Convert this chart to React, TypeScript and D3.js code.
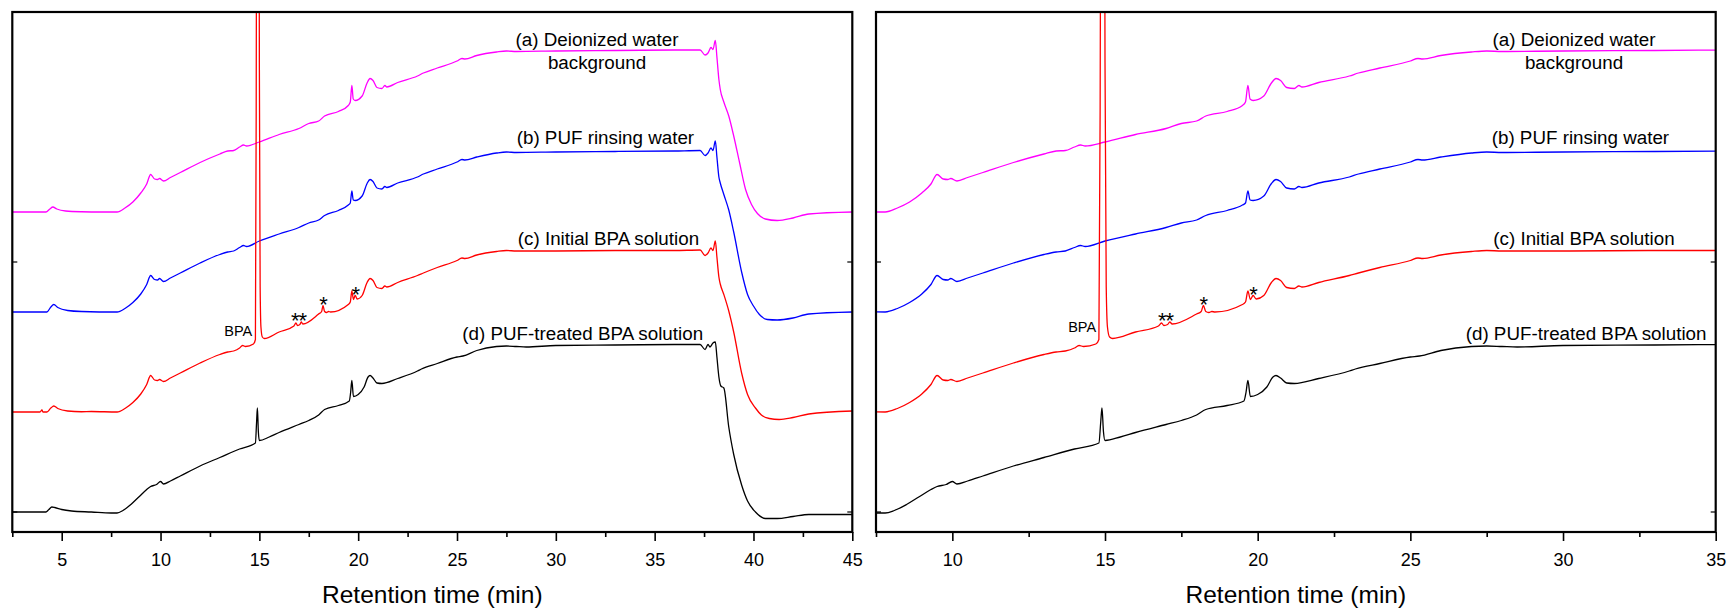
import React, { useEffect, useRef } from 'react';
import * as d3 from 'd3';

// chromatograms: [retention time (min), signal (a.u.)]
const deionizedWater: [number, number][] = [
  [2.5, 0], [4.2, 0], [4.4, 0.6], [4.55, 1.0], [4.75, 0.6], [5.2, 0.2], [6.0, 0.05], [7.0, 0], [7.8, 0],
  [8.2, 0.8], [8.6, 2.0], [9.0, 3.8], [9.3, 5.6], [9.5, 7.5], [9.7, 6.6], [9.85, 6.5], [9.95, 6.7], [10.15, 6.2],
  [10.5, 6.9], [11.0, 7.9], [12.0, 9.9], [13.0, 11.6], [13.4, 12.2], [13.7, 12.3], [14.0, 13.0], [14.2, 13.4],
  [14.35, 13.2], [15.0, 14.0], [16.0, 15.5], [17.0, 16.7], [17.5, 17.7], [18.0, 18.2], [18.3, 19.2], [19.0, 20.1],
  [19.5, 21.3], [19.6, 22.0], [19.68, 25.3], [19.75, 22.6], [19.85, 22.3], [20.2, 23.2], [20.45, 25.8], [20.6, 26.7],
  [20.75, 26.3], [20.95, 24.9], [21.2, 24.7], [21.35, 25.3], [21.45, 25.0], [22.0, 25.9], [23.0, 27.2], [23.3, 27.8],
  [24.0, 28.8], [25.0, 30.2], [25.25, 30.7], [25.4, 30.6], [26.0, 31.3], [27.0, 32.0], [27.5, 32.2], [28.0, 32.1],
  [30.0, 32.2], [33.0, 32.3], [36.0, 32.4], [37.3, 32.4], [37.55, 31.4], [37.7, 31.8], [37.85, 32.9], [37.95, 32.5],
  [38.07, 34.3], [38.15, 31.0], [38.25, 26.5], [38.32, 24.5], [38.5, 22.0], [38.75, 19.2], [39.0, 15.2], [39.3, 9.8],
  [39.6, 4.5], [39.9, 1.5], [40.2, -0.3], [40.6, -1.4], [41.2, -1.7], [42.0, -1.2], [42.8, -0.4], [45.0, 0]
];

const pufRinsingWater: [number, number][] = [
  [2.5, 0], [4.25, 0], [4.45, 1.0], [4.6, 1.5], [4.8, 0.9], [5.3, 0.3], [6.0, 0.1], [7.8, 0],
  [8.2, 0.7], [8.6, 1.9], [9.0, 3.6], [9.3, 5.5], [9.5, 7.3], [9.7, 6.5], [9.85, 6.4], [9.95, 6.7], [10.15, 6.1],
  [10.5, 6.8], [11.0, 7.8], [12.0, 9.8], [13.0, 11.5], [13.4, 12.0], [13.7, 12.2], [14.0, 12.9], [14.2, 13.3],
  [14.35, 13.1], [15.0, 14.2], [16.0, 15.6], [17.0, 16.9], [17.5, 17.8], [18.0, 18.4], [18.3, 19.3], [19.0, 20.3],
  [19.5, 21.4], [19.6, 21.8], [19.68, 24.2], [19.75, 22.4], [19.85, 22.3], [20.2, 23.2], [20.45, 25.7], [20.6, 26.5],
  [20.75, 26.1], [20.95, 24.8], [21.2, 24.6], [21.35, 25.1], [21.45, 24.9], [22.0, 25.8], [23.0, 27.0], [23.3, 27.6],
  [24.0, 28.6], [25.0, 30.0], [25.25, 30.5], [25.4, 30.4], [26.0, 31.0], [27.0, 31.8], [27.5, 32.0], [28.0, 31.9],
  [30.0, 32.0], [33.0, 32.1], [36.0, 32.2], [37.3, 32.3], [37.55, 31.3], [37.7, 31.8], [37.85, 32.8], [37.95, 32.3],
  [38.07, 34.2], [38.15, 31.0], [38.25, 27.0], [38.32, 25.8], [38.5, 23.5], [38.75, 20.4], [39.0, 16.0], [39.4, 8.0],
  [39.7, 3.5], [40.0, 1.2], [40.3, -0.5], [40.7, -1.5], [41.2, -1.6], [42.0, -1.2], [42.8, -0.4], [45.0, 0]
];

const initialBpa: [number, number][] = [
  [2.5, 0], [3.9, 0], [4.0, 0.4], [4.05, 0], [4.25, 0], [4.45, 0.8], [4.6, 1.2], [4.8, 0.7], [5.3, 0.2], [6.0, 0.05],
  [6.5, 0.1], [7.8, 0], [8.2, 0.7], [8.6, 1.9], [9.0, 3.6], [9.3, 5.5], [9.5, 7.3], [9.7, 6.4], [9.85, 6.3],
  [9.95, 6.5], [10.15, 6.1], [10.5, 6.8], [11.0, 7.8], [12.0, 9.8], [13.0, 11.5], [13.4, 12.0], [13.7, 12.2],
  [14.0, 12.8], [14.15, 13.3], [14.3, 13.1], [14.7, 13.6], [14.8, 14.5], [14.84, 60], [14.88, 160], [14.92, 230],
  [14.97, 160], [15.0, 70], [15.04, 25], [15.08, 17], [15.15, 15.0], [15.25, 14.7], [16.0, 16.0], [16.75, 17.2],
  [16.85, 17.8], [16.93, 17.3], [17.05, 17.5], [17.12, 18.0], [17.2, 17.6], [18.0, 19.6], [18.15, 20.1],
  [18.22, 21.3], [18.3, 20.1], [18.4, 19.9], [18.5, 20.1], [18.6, 20.0], [19.5, 21.5], [19.6, 22.0], [19.68, 24.2],
  [19.76, 22.5], [19.85, 23.3], [19.95, 22.6], [20.2, 23.3], [20.45, 25.9], [20.6, 26.7], [20.75, 26.3],
  [20.95, 24.9], [21.2, 24.7], [21.35, 25.2], [21.45, 25.0], [22.0, 25.9], [23.0, 27.3], [23.3, 27.8], [24.0, 28.9],
  [25.0, 30.3], [25.25, 30.8], [25.4, 30.7], [26.0, 31.4], [27.0, 32.1], [27.5, 32.3], [28.0, 32.2], [30.0, 32.2],
  [33.0, 32.3], [36.0, 32.3], [37.3, 32.4], [37.55, 31.3], [37.7, 31.8], [37.85, 32.8], [37.95, 32.3], [38.07, 34.2],
  [38.15, 31.0], [38.25, 27.0], [38.32, 25.6], [38.5, 23.5], [38.75, 20.2], [39.0, 16.0], [39.4, 7.8], [39.7, 3.5],
  [40.1, 0.8], [40.4, -0.6], [40.8, -1.3], [41.3, -1.5], [42.0, -1.1], [42.8, -0.4], [45.0, 0.2]
];

const pufTreatedBpa: [number, number][] = [
  [2.5, 0], [4.2, 0], [4.35, 0.5], [4.5, 1.0], [4.65, 0.9], [5.0, 0.5], [5.5, 0.2], [6.5, 0], [7.5, -0.2],
  [7.8, -0.2], [8.1, 0.3], [8.5, 1.5], [8.9, 3.0], [9.3, 4.5], [9.5, 5.1], [9.8, 5.5], [10.0, 6.1], [10.15, 5.6],
  [10.5, 6.2], [11.0, 7.2], [12.0, 9.2], [13.0, 10.9], [14.0, 12.6], [14.8, 13.8], [14.86, 18.0], [14.9, 20.8],
  [14.95, 16.0], [15.0, 14.3], [15.5, 15.0], [16.0, 15.9], [17.0, 17.5], [17.5, 18.3], [18.0, 19.4], [18.3, 20.5],
  [19.0, 21.3], [19.55, 22.2], [19.62, 24.0], [19.68, 26.3], [19.76, 23.1], [20.0, 23.5], [20.3, 25.0],
  [20.5, 27.0], [20.6, 27.3], [20.75, 26.8], [20.95, 25.8], [21.2, 25.7], [22.0, 26.7], [23.0, 28.2], [23.2, 28.6],
  [24.0, 29.7], [25.0, 31.0], [25.3, 31.2], [26.0, 32.3], [27.0, 33.1], [27.5, 33.2], [28.0, 33.1], [28.5, 33.0],
  [30.0, 33.3], [33.0, 33.4], [36.0, 33.5], [37.3, 33.5], [37.55, 32.5], [37.7, 33.5], [37.8, 33.0], [37.95, 33.8],
  [38.07, 34.0], [38.15, 31.0], [38.25, 27.0], [38.35, 25.2], [38.5, 24.8], [38.75, 17.0], [39.0, 11.5],
  [39.4, 5.4], [39.7, 2.2], [40.1, 0], [40.6, -1.3], [41.2, -1.3], [42.0, -0.9], [42.8, -0.5], [45.0, -0.5]
];

const traces = [deionizedWater, pufRinsingWater, initialBpa, pufTreatedBpa];
const traceColors = ['#ff00ff', '#0000ff', '#ff0000', '#000000'];
const traceOffsets = [60, 40, 20, 0];
const traceLabels = ['(a) Deionized water', '(b) PUF rinsing water', '(c) Initial BPA solution', '(d) PUF-treated BPA solution'];
const labelSecondLine = 'background';

const leftDomain = [2.5, 45];
const rightDomain = [7.5, 35];
const leftTicks = [5, 10, 15, 20, 25, 30, 35, 40, 45];
const rightTicks = [10, 15, 20, 25, 30, 35];
// unidentified peaks of (c), marked with asterisks
const asteriskGroups = [[16.85, 17.12], [18.22], [19.85]];
const bpaTime = 14.84;

const FONT = 'Liberation Sans, Arial, Helvetica, sans-serif';

export default function App() {
  const ref = useRef<SVGSVGElement>(null);

  useEffect(() => {
    const svg = d3.select(ref.current);
    svg.selectAll('*').remove();

    const top = 12, bottom = 532;
    const y = d3.scaleLinear().domain([-4, 100]).range([bottom, top]);

    const panels = [
      { id: 'l', domain: leftDomain, ticks: leftTicks, x0: 12.3, x1: 852.3,
        labelA: 597, labelStart: [516.7, 517.8, 462.3], bpaY: 336 },
      { id: 'r', domain: rightDomain, ticks: rightTicks, x0: 876, x1: 1715.7,
        labelA: 1574, labelStart: [1491.7, 1493.3, 1465.7], bpaY: 332 }
    ];

    panels.forEach(p => {
      const x = d3.scaleLinear().domain(p.domain).range([p.x0, p.x1]);

      // clip so the BPA peak runs off the top
      svg.append('clipPath').attr('id', `clip-${p.id}`)
        .append('rect')
        .attr('x', p.x0).attr('y', top)
        .attr('width', p.x1 - p.x0).attr('height', bottom - top);

      const lines = svg.append('g').attr('clip-path', `url(#clip-${p.id})`);
      traces.forEach((tr, i) => {
        const line = d3.line<[number, number]>()
          .x(d => x(d[0]))
          .y(d => y(d[1] + traceOffsets[i]))
          .curve(d3.curveMonotoneX);
        lines.append('path')
          .datum(tr)
          .attr('fill', 'none')
          .attr('stroke', traceColors[i])
          .attr('stroke-width', 1.3)
          .attr('stroke-linejoin', 'round')
          .attr('d', line);
      });

      // minor ticks
      const minor = d3.range(p.domain[0], p.domain[1] + 0.01, 2.5).filter(v => !p.ticks.includes(v));
      const minorAxis = svg.append('g')
        .attr('transform', `translate(0,${bottom})`)
        .call(d3.axisBottom(x).tickValues(minor).tickSize(5).tickFormat(() => ''));
      minorAxis.select('.domain').remove();
      minorAxis.selectAll('line').attr('stroke-width', 1.6);

      // major ticks + labels
      const majorAxis = svg.append('g')
        .attr('transform', `translate(0,${bottom})`)
        .call(d3.axisBottom(x).tickValues(p.ticks).tickSize(9).tickPadding(12).tickFormat(d3.format('d')));
      majorAxis.select('.domain').remove();
      majorAxis.selectAll('line').attr('stroke-width', 1.6);
      majorAxis.attr('font-size', 18).attr('font-family', FONT);
      majorAxis.selectAll('text').attr('fill', '#000');

      // inward y ticks (no labels)
      [0, 50, 100].forEach(v => {
        svg.append('line').attr('x1', p.x0).attr('x2', p.x0 + 5).attr('y1', y(v)).attr('y2', y(v))
          .attr('stroke', '#000').attr('stroke-width', 1.2);
        svg.append('line').attr('x1', p.x1).attr('x2', p.x1 - 5).attr('y1', y(v)).attr('y2', y(v))
          .attr('stroke', '#000').attr('stroke-width', 1.2);
      });

      // frame
      svg.append('rect')
        .attr('x', p.x0).attr('y', top)
        .attr('width', p.x1 - p.x0).attr('height', bottom - top)
        .attr('fill', 'none').attr('stroke', '#000').attr('stroke-width', 2.2);

      // axis title
      svg.append('text')
        .attr('x', (p.x0 + p.x1) / 2).attr('y', 603)
        .attr('text-anchor', 'middle')
        .attr('font-family', FONT).attr('font-size', 24.5)
        .text('Retention time (min)');

      // trace labels
      const labels = svg.append('g').attr('font-family', FONT).attr('font-size', 18.8).attr('fill', '#000');
      labels.append('text').attr('x', p.labelA).attr('y', 46).attr('text-anchor', 'middle').text(traceLabels[0]);
      labels.append('text').attr('x', p.labelA).attr('y', 68.5).attr('text-anchor', 'middle').text(labelSecondLine);
      const baselines = [144, 244.7, 340];
      [1, 2, 3].forEach((k, j) => {
        labels.append('text').attr('x', p.labelStart[j]).attr('y', baselines[j]).text(traceLabels[k]);
      });

      // BPA peak label
      svg.append('text')
        .attr('x', x(bpaTime) - 4).attr('y', p.bpaY)
        .attr('text-anchor', 'end')
        .attr('font-family', FONT).attr('font-size', 14.5)
        .text('BPA');

      // asterisks over the unknown peaks of (c)
      const bis = d3.bisector((d: [number, number]) => d[0]).left;
      asteriskGroups.forEach(group => {
        const peak = d3.max(group, t => initialBpa[bis(initialBpa, t)][1]) as number;
        svg.append('text')
          .attr('x', x(d3.mean(group) as number)).attr('y', y(peak + traceOffsets[2]) + 6)
          .attr('text-anchor', 'middle')
          .attr('font-family', FONT).attr('font-size', 22)
          .attr('letter-spacing', -1)
          .text('*'.repeat(group.length));
      });
    });
  }, []);

  return (
    <div style={{ position: 'absolute', left: 0, top: 0 }}>
      <svg ref={ref} width={1729} height={609} style={{ display: 'block', background: '#fff' }} />
    </div>
  );
}
